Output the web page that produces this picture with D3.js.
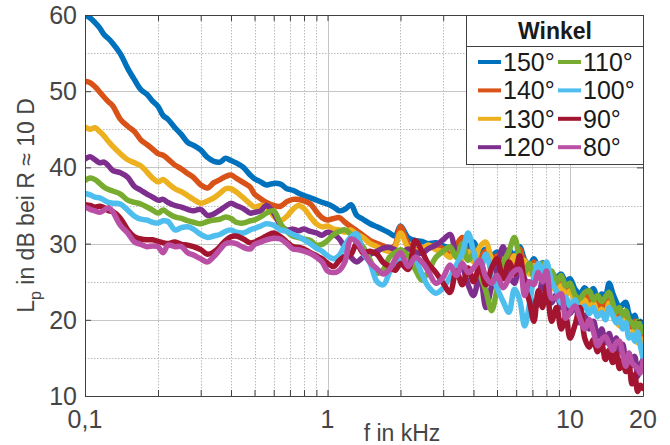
<!DOCTYPE html>
<html>
<head>
<meta charset="utf-8">
<title>Winkel</title>
<style>
body { margin: 0; background: #fff; }
svg { font-family: "Liberation Sans", Arial, sans-serif; }
.grid-major { stroke: #c6c6c6; stroke-width: 1; }
.grid-minor { stroke: #bdbdbd; stroke-width: 1; stroke-dasharray: 1.5,1.5; }
.axis path, .axis line { stroke: #404040; stroke-width: 1; }
.tick-lab { fill: #454545; font-size: 25px; }
.curve { fill: none; stroke-width: 5.5; stroke-linejoin: round; stroke-linecap: round; }
</style>
</head>
<body>
<script src="https://d3js.org/d3.v7.min.js"></script>
<script>
// frequency grid in kHz
var freqKHz = [
  0.1,0.105,0.11,0.115,0.12,0.125,0.13,0.14,0.15,0.16,
  0.17,0.18,0.19,0.2,0.21,0.22,0.235,0.25,0.265,0.28,
  0.3,0.32,0.34,0.36,0.38,0.4,0.42,0.45,0.48,0.5,
  0.53,0.56,0.6,0.64,0.68,0.72,0.76,0.8,0.85,0.9,
  0.95,1.0,1.06,1.12,1.18,1.25,1.32,1.4,1.5,1.6,
  1.7,1.8,1.9,2.0,2.15,2.3,2.45,2.6,2.8,3.0,
  3.2,3.4,3.6,3.8,4.0,4.25,4.5,4.75,5.0,5.3,
  5.6,5.9,6.2,6.5,6.8,7.1,7.4,7.7,8.0,8.4,
  8.8,9.2,9.6,10,10.5,11,11.5,12,12.5,13,
  13.5,14,14.5,15,15.5,16,16.5,17,17.5,18,
  18.5,19,19.5,20];

var w150 = [
  60.0,59.6,59.0,58.3,57.4,56.9,56.3,54.9,53.0,51.5,
  50.2,49.6,48.7,48.0,46.8,46.3,45.2,44.3,43.3,42.9,
  42.3,41.3,40.8,40.7,41.2,40.9,40.6,40.0,39.0,38.5,
  38.1,37.7,37.9,37.8,37.2,37.0,36.6,36.3,36.0,35.7,
  35.4,35.2,34.8,34.3,34.5,35.1,33.7,33.2,32.6,32.2,
  31.8,31.4,31.0,32.3,30.8,30.4,30.3,30.0,30.1,29.7,
  29.5,29.9,29.0,29.6,30.2,28.8,29.3,28.4,28.9,28.0,
  29.2,28.3,29.6,27.9,27.2,28.0,27.0,27.5,26.8,26.2,
  25.6,26.0,25.0,25.4,24.0,23.4,24.2,23.6,24.1,22.8,
  23.4,23.2,24.8,23.5,22.4,21.5,22.0,22.3,20.8,20.2,
  20.6,19.4,19.8,18.7];

var w140 = [
  51.3,51.1,50.6,49.9,49.2,48.6,48.1,46.3,45.4,44.7,
  43.6,43.0,42.4,41.8,41.6,41.1,40.3,39.8,39.2,38.7,
  37.7,37.3,38.0,38.4,38.8,39.0,38.6,38.0,37.4,36.5,
  35.9,35.4,35.0,34.9,35.5,35.8,35.8,35.6,35.2,34.2,
  33.4,33.1,33.3,33.4,32.8,32.2,31.7,31.1,30.4,30.0,
  29.7,29.4,29.8,32.2,30.0,29.2,29.5,29.4,29.8,29.3,
  28.6,29.8,30.8,28.5,29.2,28.2,29.0,27.6,28.4,27.2,
  28.8,27.4,29.3,27.0,26.4,27.6,26.2,26.9,25.8,25.3,
  24.6,25.2,24.0,24.6,23.0,22.4,23.4,22.5,23.0,21.6,
  22.2,21.4,23.2,21.8,21.0,20.2,21.0,20.6,19.4,19.0,
  19.8,18.0,18.6,17.2];

var w130 = [
  45.3,45.0,45.2,44.7,44.1,43.4,42.8,41.8,41.0,40.6,
  40.2,39.4,38.6,38.1,38.4,37.9,37.2,36.8,36.3,35.8,
  35.3,35.6,36.0,36.6,37.2,37.2,36.8,36.0,35.2,34.8,
  35.0,34.9,33.6,33.0,33.6,34.5,35.0,34.6,33.5,32.6,
  32.2,32.3,31.9,31.8,31.5,31.8,31.2,30.8,30.0,29.6,
  29.2,29.0,29.6,31.4,29.5,29.1,29.3,29.8,29.2,28.9,
  28.2,29.2,28.0,28.9,27.6,29.6,30.2,28.0,27.2,28.1,
  27.0,28.4,26.8,27.8,26.0,27.1,25.6,26.4,25.0,24.6,
  23.8,24.5,23.2,23.8,22.4,21.8,22.6,21.6,22.2,20.8,
  21.4,20.6,22.2,20.8,19.8,19.2,20.0,19.4,18.2,18.0,
  18.8,17.0,17.6,16.4];

var w120 = [
  41.1,41.4,41.0,40.6,40.7,40.2,39.6,39.3,38.7,37.5,
  37.0,36.5,36.1,35.7,35.8,35.4,35.0,34.8,34.5,34.3,
  34.5,33.7,33.9,34.4,34.9,35.3,35.0,34.6,34.0,34.1,
  34.3,35.0,34.0,32.4,31.8,31.9,31.7,31.9,31.6,31.4,
  31.1,31.5,31.2,30.6,29.4,28.2,27.6,28.2,28.6,29.0,
  29.4,29.5,29.2,28.8,29.3,28.9,28.7,29.3,29.8,30.5,
  31.2,28.4,27.0,24.6,23.2,25.8,21.6,24.4,26.8,29.6,
  26.0,24.8,27.2,25.4,23.6,21.4,22.6,25.0,24.0,22.2,
  23.4,21.6,22.8,20.8,21.8,19.6,20.6,18.8,19.8,17.8,
  18.8,17.0,18.2,16.6,17.6,15.8,16.8,14.6,15.6,14.0,
  15.2,12.6,14.0,14.8];

var w110 = [
  38.3,38.6,38.4,37.9,37.4,37.1,36.9,36.5,35.7,35.4,
  35.2,34.8,34.4,34.0,34.4,34.0,33.5,33.3,33.0,32.8,
  32.6,32.9,33.1,33.2,33.5,33.3,32.8,32.7,33.0,33.1,
  33.5,34.0,34.3,32.6,31.6,31.0,30.8,30.6,30.4,29.8,
  29.9,30.4,31.2,31.6,31.8,31.2,30.6,29.6,27.8,26.1,
  26.6,28.2,28.8,29.2,28.4,26.6,25.2,26.3,28.2,29.0,
  29.6,28.2,30.0,27.8,28.6,26.0,23.8,21.2,24.0,27.4,
  29.0,30.8,28.0,26.2,27.4,25.6,26.8,27.4,25.8,26.4,
  25.0,25.8,24.4,24.8,23.2,22.8,23.6,23.8,22.6,23.2,
  22.4,23.0,23.6,22.2,21.0,21.6,20.6,21.2,20.0,19.6,
  19.0,19.8,19.2,18.4];

var w100 = [
  36.6,36.4,36.1,36.0,35.7,35.4,35.3,35.2,34.4,33.6,
  33.2,33.1,32.8,32.7,33.0,32.9,31.8,32.1,32.2,31.9,
  31.2,30.8,31.0,31.2,31.6,31.8,31.5,31.4,31.8,32.0,
  32.3,32.6,32.4,31.8,31.6,31.2,30.9,30.5,30.0,29.4,
  29.0,28.4,28.0,28.5,29.8,30.9,31.3,28.8,27.4,25.0,
  24.6,26.2,27.6,27.9,27.6,27.8,26.0,24.4,23.5,24.2,
  25.6,27.2,28.8,31.4,29.0,26.4,28.6,26.0,24.2,22.4,
  21.0,24.0,22.6,19.2,22.0,25.6,27.4,26.0,27.6,25.0,
  23.8,22.2,23.0,21.8,22.6,21.2,21.8,20.8,21.6,20.4,
  21.0,20.0,21.6,20.6,19.6,20.2,18.8,19.6,17.6,18.0,
  17.2,18.4,16.6,15.0];

var w90 = [
  35.1,35.0,34.8,34.9,34.7,34.3,34.2,33.3,31.8,30.9,
  30.6,30.5,30.5,30.3,30.1,30.0,30.2,29.9,29.8,29.6,
  29.2,28.6,28.9,29.6,30.4,30.9,31.0,30.6,30.1,30.2,
  30.6,31.0,31.4,30.9,30.2,29.6,29.5,29.3,28.8,28.4,
  28.0,27.4,27.0,27.8,28.3,28.6,30.0,28.8,29.0,28.6,
  27.5,27.0,26.5,27.4,26.6,30.4,29.0,27.4,26.2,24.8,
  23.6,26.4,24.6,26.8,25.0,27.0,24.6,26.8,28.0,25.4,
  27.6,26.0,28.4,24.6,22.4,19.8,23.8,21.6,24.4,19.8,
  21.6,18.8,20.4,17.6,19.4,21.6,17.6,16.4,17.4,15.8,
  16.8,14.8,16.0,14.4,15.6,13.6,14.8,13.2,14.0,11.6,
  12.8,10.6,11.4,11.0];

var w80 = [
  34.8,34.5,34.3,34.1,34.4,34.7,34.2,32.4,31.4,30.2,
  29.9,29.6,29.7,29.6,28.8,29.8,29.6,29.6,28.8,28.5,
  28.0,27.6,28.3,29.2,30.0,30.1,30.0,29.5,29.3,29.9,
  30.2,30.5,30.7,30.6,30.0,29.3,29.2,29.0,28.7,28.2,
  27.6,26.4,26.2,26.5,27.6,30.6,30.2,29.0,27.5,26.7,
  26.0,26.6,27.9,28.8,27.0,28.2,27.6,26.4,24.8,25.6,
  27.2,25.8,27.4,26.2,26.8,27.8,25.6,24.8,25.8,24.2,
  25.4,26.4,26.6,23.2,25.0,24.6,26.2,25.0,26.4,22.8,
  23.0,23.4,20.2,21.0,21.8,20.2,18.8,20.0,18.4,16.6,
  17.4,17.8,16.8,16.0,17.0,17.2,15.4,13.9,15.6,14.4,
  14.0,13.6,13.0,14.6];

var seriesLabels = ["150°", "140°", "130°", "120°", "110°", "100°", "90°", "80°"];
var seriesValues = [w150, w140, w130, w120, w110, w100, w90, w80];
var seriesColors = ["#0072BD", "#D95319", "#EDB120", "#7E2F8E", "#77AC30", "#4DBEEE", "#A2142F", "#BA4FA6"];

var xTickVals = [0.1, 1, 10, 20];
var xTickLabels = ["0,1", "1", "10", "20"];
var xMinorVals = [0.2, 0.3, 0.4, 0.5, 0.6, 0.7, 0.8, 0.9, 2, 3, 4, 5, 6, 7, 8, 9];
var yTickVals = [10, 20, 30, 40, 50, 60];
var yMinorVals = [15, 25, 35, 45, 55];

var width = 670, height = 445;
// plot box (window.top is reserved, so prefixed names)
var pLeft = 85, pRight = 643, pTop = 15, pBottom = 396;

var x = d3.scaleLog().domain([0.1, 20]).range([pLeft, pRight]);
var y = d3.scaleLinear().domain([10, 60]).range([pBottom, pTop]);

var svg = d3.select("body").append("svg")
    .attr("width", width)
    .attr("height", height);

function px(v) { return Math.round(v) + 0.5; }

// grid lines
var grid = svg.append("g");
grid.selectAll(".gxm").data(xMinorVals).enter().append("line")
    .attr("class", "grid-minor")
    .attr("x1", d => px(x(d))).attr("x2", d => px(x(d)))
    .attr("y1", pTop).attr("y2", pBottom);
grid.selectAll(".gym").data(yMinorVals).enter().append("line")
    .attr("class", "grid-minor")
    .attr("x1", pLeft).attr("x2", pRight)
    .attr("y1", d => px(y(d))).attr("y2", d => px(y(d)));
grid.selectAll(".gx").data([1, 10]).enter().append("line")
    .attr("class", "grid-major")
    .attr("x1", d => px(x(d))).attr("x2", d => px(x(d)))
    .attr("y1", pTop).attr("y2", pBottom);
grid.selectAll(".gy").data([20, 30, 40, 50]).enter().append("line")
    .attr("class", "grid-major")
    .attr("x1", pLeft).attr("x2", pRight)
    .attr("y1", d => px(y(d))).attr("y2", d => px(y(d)));

// curves
svg.append("clipPath").attr("id", "plotclip")
  .append("rect").attr("x", pLeft).attr("y", pTop)
    .attr("width", pRight - pLeft).attr("height", pBottom - pTop);

var line = d3.line()
    .curve(d3.curveCatmullRom.alpha(0.5))
    .x((d, i) => x(freqKHz[i]))
    .y(d => y(d));

svg.append("g").attr("clip-path", "url(#plotclip)")
  .selectAll("path").data(seriesValues).enter().append("path")
    .attr("class", "curve")
    .attr("stroke", (d, i) => seriesColors[i])
    .attr("d", line);

// axes (ticks inside, box around)
var allX = xTickVals.concat(xMinorVals);
svg.append("g").attr("class", "axis")
    .attr("transform", "translate(0," + pBottom + ")")
    .call(d3.axisBottom(x).tickValues(allX).tickSize(-6).tickSizeOuter(0).tickFormat(""));
svg.append("g").attr("class", "axis")
    .attr("transform", "translate(0," + pTop + ")")
    .call(d3.axisTop(x).tickValues(allX).tickSize(-6).tickSizeOuter(0).tickFormat(""));
svg.append("g").attr("class", "axis")
    .attr("transform", "translate(" + pLeft + ",0)")
    .call(d3.axisLeft(y).tickValues(yTickVals).tickSize(-6).tickSizeOuter(0).tickFormat(""));
svg.append("g").attr("class", "axis")
    .attr("transform", "translate(" + pRight + ",0)")
    .call(d3.axisRight(y).tickValues(yTickVals).tickSize(-6).tickSizeOuter(0).tickFormat(""));

// tick labels
svg.selectAll(".xlab").data(xTickVals).enter().append("text")
    .attr("class", "tick-lab")
    .attr("x", d => x(d)).attr("y", 428)
    .attr("text-anchor", "middle")
    .text((d, i) => xTickLabels[i]);
svg.selectAll(".ylab").data(yTickVals).enter().append("text")
    .attr("class", "tick-lab")
    .attr("x", pLeft - 8).attr("y", d => y(d))
    .attr("dy", "0.36em")
    .attr("text-anchor", "end")
    .text(d => d);

// axis titles
svg.append("text")
    .attr("class", "tick-lab")
    .attr("x", 402).attr("y", 441)
    .attr("text-anchor", "middle")
    .style("font-size", "23px")
    .text("f in kHz");

var ylab = svg.append("text")
    .attr("class", "tick-lab")
    .attr("transform", "translate(34," + ((pTop + pBottom) / 2) + ")rotate(-90)")
    .attr("text-anchor", "middle")
    .style("font-size", "23px");
ylab.append("tspan").text("L");
ylab.append("tspan").attr("dy", 7).style("font-size", "16px").text("p");
ylab.append("tspan").attr("dy", -7).text(" in dB bei R \u2248 10 D");

// legend
var lg = svg.append("g");
lg.append("rect")
    .attr("x", 466.5).attr("y", 15.5)
    .attr("width", 177).attr("height", 149)
    .attr("fill", "#fff").attr("stroke", "#404040").attr("stroke-width", 1);
lg.append("line")
    .attr("x1", 466.5).attr("x2", 643.5)
    .attr("y1", 46.5).attr("y2", 46.5)
    .attr("stroke", "#404040");
lg.append("text")
    .attr("x", 555).attr("y", 39)
    .attr("text-anchor", "middle")
    .style("font-size", "23px").style("font-weight", "bold")
    .attr("fill", "#1a1a1a")
    .text("Winkel");

var item = lg.selectAll(".item").data(seriesLabels).enter().append("g")
    .attr("transform", (d, i) => "translate(" + (i < 4 ? 478 : 558) + "," + (62 + (i % 4) * 28.4) + ")");
item.append("line")
    .attr("x1", 0).attr("x2", 23)
    .attr("stroke", (d, i) => seriesColors[i])
    .attr("stroke-width", 4);
item.append("text")
    .attr("x", 25).attr("y", 9)
    .style("font-size", "25px")
    .attr("fill", "#1a1a1a")
    .text(d => d);
</script>
</body>
</html>
